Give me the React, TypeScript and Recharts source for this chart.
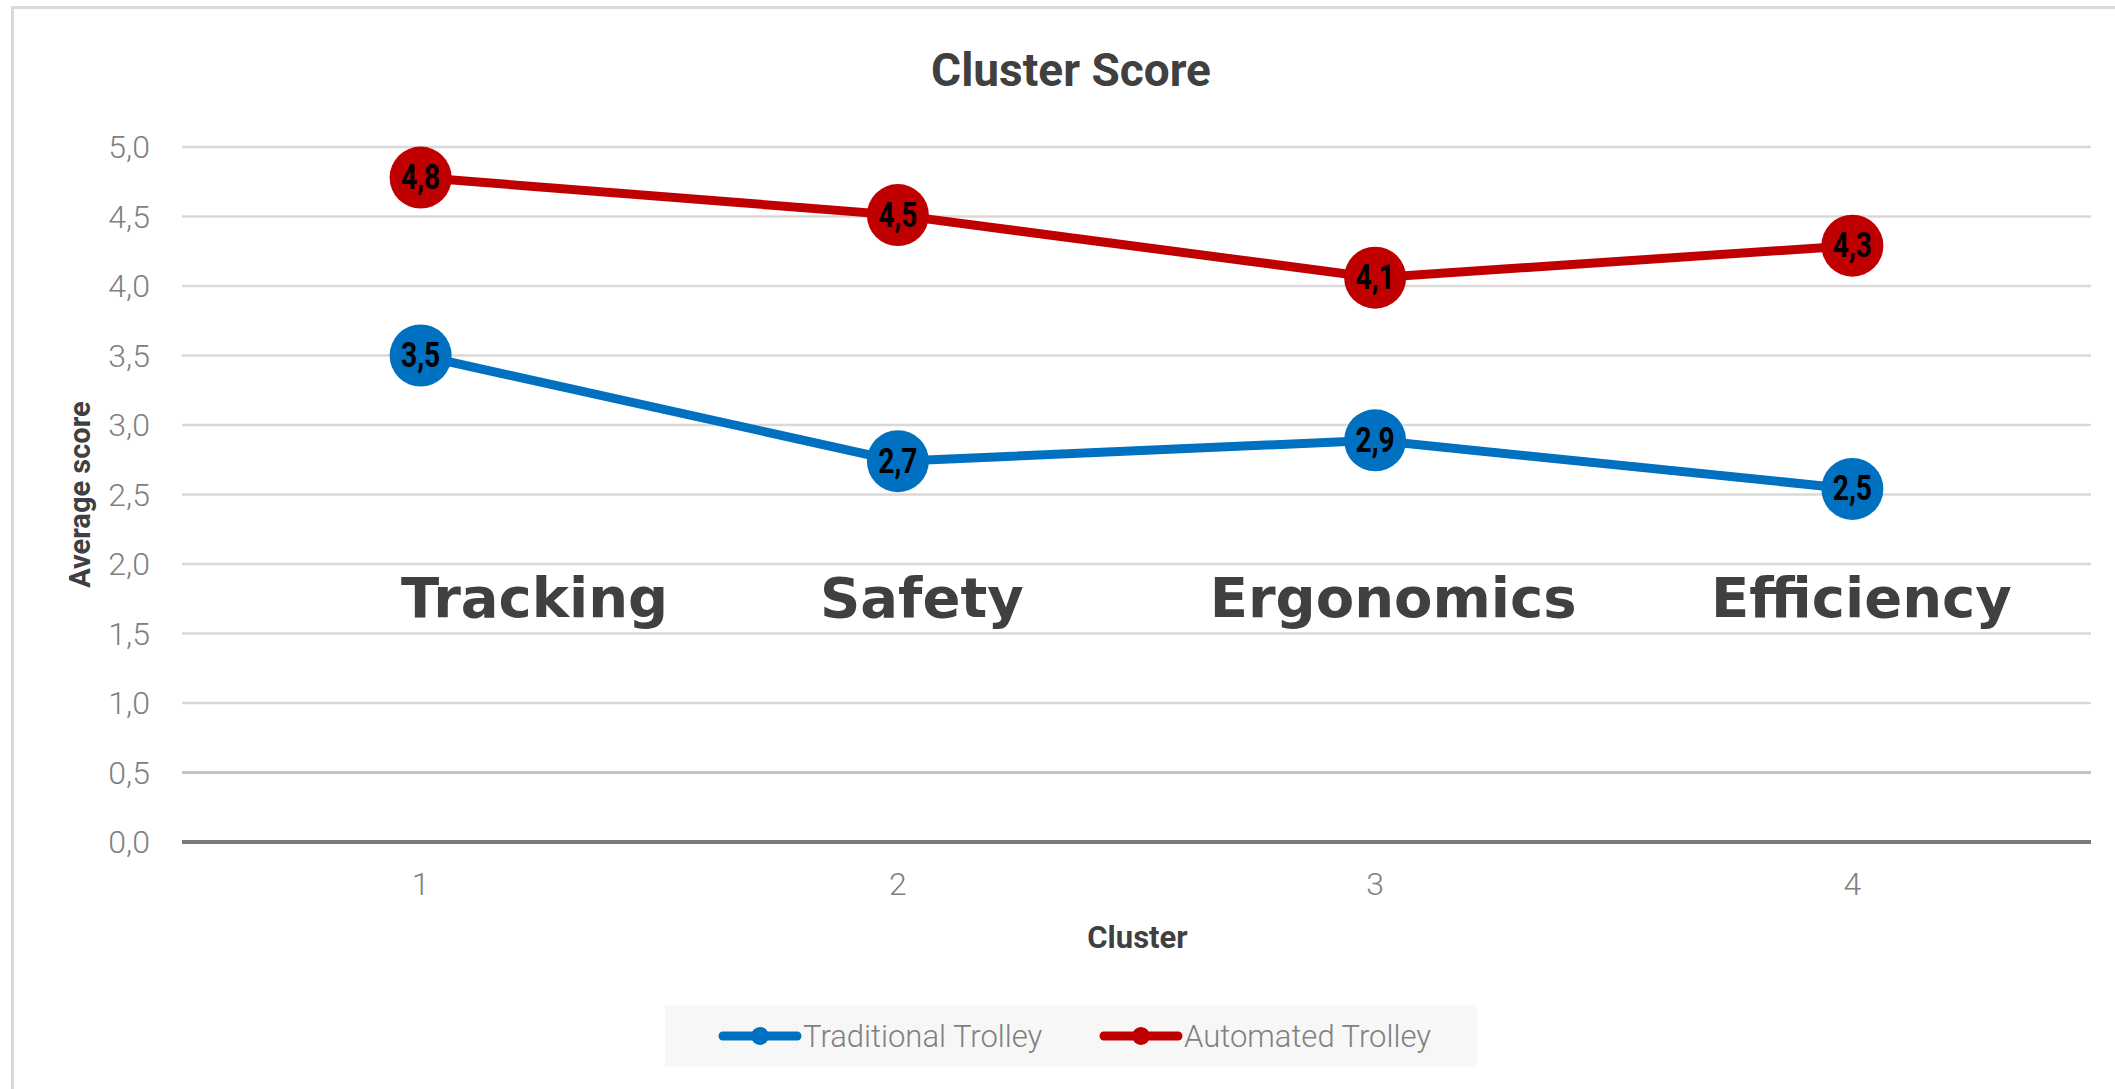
import React from 'react';
import {
  LineChart,
  Line,
  XAxis,
  YAxis,
  CartesianGrid,
  ReferenceDot,
  ReferenceLine,
  Legend,
  Customized,
} from 'recharts';

// ---------- data ----------
const clusters = [1, 2, 3, 4];
const clusterNames = ['Tracking', 'Safety', 'Ergonomics', 'Efficiency'];
const traditionalScores = [3.5, 2.74, 2.89, 2.54];
const automatedScores = [4.78, 4.51, 4.06, 4.29];
const yTicks = [0, 0.5, 1, 1.5, 2, 2.5, 3, 3.5, 4, 4.5, 5];
const seriesNames = ['Traditional Trolley', 'Automated Trolley'];
const chartTitle = 'Cluster Score';
const xAxisTitle = 'Cluster';
const yAxisTitle = 'Average score';

const data = clusters.map((c, i) => ({
  cluster: c,
  traditional: traditionalScores[i],
  automated: automatedScores[i],
}));

// ---------- styles ----------
const W = 2115;
const H = 1089;
const BLUE = '#0070C0';
const RED = '#C00000';
const GRID = '#d9d9d9';
const TICK_COLOR = '#808080';
const TEXT_DARK = '#404040';
const FONT = 'Roboto, "Noto Sans", sans-serif';
const nameDx = [114, 24, 18, 9];
const nameLevel = 1.62;

const fmt = (v: number) => v.toFixed(1).replace('.', ',');

const YTick = (props: any) => {
  const { x, y, payload } = props;
  return (
    <text x={x} y={y} textAnchor="end" dominantBaseline="central" fontFamily={FONT} fontSize={32} fontWeight={300} fill={TICK_COLOR}>
      {fmt(payload.value)}
    </text>
  );
};

const XTick = (props: any) => {
  const { x, y, payload } = props;
  return (
    <text x={x} y={y} textAnchor="middle" dominantBaseline="central" fontFamily={FONT} fontSize={32} fontWeight={300} fill={TICK_COLOR}>
      {String(payload.value)}
    </text>
  );
};

const makeDot = (color: string, key: string) => (props: any) => {
  const { cx, cy, payload, index } = props;
  if (cx == null || cy == null) return <g key={`d-${key}-${index}`} />;
  return (
    <g key={`d-${key}-${index}`}>
      <circle cx={cx} cy={cy} r={31} fill={color} stroke="none" />
      <text
        transform={`translate(${cx},${cy}) scale(0.88,1.08)`}
        textAnchor="middle"
        dominantBaseline="central"
        fontFamily={FONT}
        fontSize={32}
        fontWeight={700}
        fill="#000"
      >
        {fmt(payload[key])}
      </text>
    </g>
  );
};

const LegendContent = () => {
  const items = [
    { name: seriesNames[0], color: BLUE, x: 719 - 665 },
    { name: seriesNames[1], color: RED, x: 1100 - 665 },
  ];
  return (
    <svg width={812} height={62} style={{ display: 'block' }}>
      <rect x={0} y={0} width={812} height={62} fill="#f7f7f7" />
      {items.map((it) => (
        <g key={it.name}>
          <line x1={it.x + 4} y1={31} x2={it.x + 78} y2={31} stroke={it.color} strokeWidth={9} strokeLinecap="round" />
          <circle cx={it.x + 41} cy={31} r={9} fill={it.color} />
          <text x={it.x + 84} y={31} dominantBaseline="central" fontFamily={FONT} fontSize={31} fontWeight={300} fill={TICK_COLOR}>
            {it.name}
          </text>
        </g>
      ))}
    </svg>
  );
};

const Title = () => (
  <text x={1071} y={86} textAnchor="middle" fontFamily={FONT} fontSize={46} fontWeight={700} fill={TEXT_DARK}>
    {chartTitle}
  </text>
);

export default function App() {
  return (
    <div style={{ position: 'absolute', left: 0, top: 0, width: W, height: H, background: '#fff', overflow: 'hidden' }}>
      <div
        style={{
          position: 'absolute',
          left: 11,
          top: 6,
          width: 2300,
          height: 1300,
          border: `3px solid ${GRID}`,
          boxSizing: 'border-box',
        }}
      />
      <div style={{ position: 'absolute', left: 0, top: 0 }}>
        <LineChart
          width={W}
          height={H}
          data={data}
          margin={{ top: 147, right: 24, left: 82, bottom: 187 }}
        >
          <CartesianGrid horizontal vertical={false} stroke={GRID} strokeWidth={2.5} />
          <ReferenceLine y={0.5} stroke="#c4c4c4" strokeWidth={3} />
          <XAxis
            dataKey="cluster"
            type="number"
            domain={[0.5, 4.5]}
            ticks={clusters}
            height={60}
            tickSize={0}
            tickMargin={42}
            tickLine={false}
            axisLine={{ stroke: '#7a7a7a', strokeWidth: 4 }}
            tick={<XTick />}
            label={{
              content: (p: any) => {
                const vb = p.viewBox || { x: 182, y: 842, width: 1909 };
                return (
                  <text x={vb.x + vb.width / 2 + 1} y={vb.y + 106} textAnchor="middle" fontFamily={FONT} fontSize={31} fontWeight={700} fill={TEXT_DARK}>
                    {xAxisTitle}
                  </text>
                );
              },
            }}
          />
          <YAxis
            type="number"
            domain={[0, 5]}
            ticks={yTicks}
            width={100}
            tickSize={0}
            tickMargin={32}
            tickLine={false}
            axisLine={false}
            tick={<YTick />}
            label={{
              content: (p: any) => {
                const vb = p.viewBox || { x: 82, y: 147, height: 695 };
                const cy = vb.y + vb.height / 2;
                return (
                  <text transform={`translate(80,${cy}) rotate(-90)`} textAnchor="middle" dominantBaseline="central" fontFamily={FONT} fontSize={29} fontWeight={700} fill={TEXT_DARK}>
                    {yAxisTitle}
                  </text>
                );
              },
            }}
          />
          {clusters.map((c, i) => (
            <ReferenceDot
              key={`name-${c}`}
              x={c}
              y={nameLevel}
              r={0}
              fill="none"
              stroke="none"
              label={{
                content: (p: any) => {
                  const vb = p.viewBox || { x: 0, y: 0 };
                  return (
                    <text x={vb.x + nameDx[i]} y={vb.y} textAnchor="middle" fontFamily='"DejaVu Sans", Verdana, sans-serif' fontSize={56} fontWeight={700} fill={TEXT_DARK}>
                      {clusterNames[i]}
                    </text>
                  );
                },
              }}
            />
          ))}
          <Line
            type="linear"
            dataKey="traditional"
            name={seriesNames[0]}
            stroke={BLUE}
            strokeWidth={9}
            dot={makeDot(BLUE, 'traditional')}
            activeDot={false}
            isAnimationActive={false}
          />
          <Line
            type="linear"
            dataKey="automated"
            name={seriesNames[1]}
            stroke={RED}
            strokeWidth={9}
            dot={makeDot(RED, 'automated')}
            activeDot={false}
            isAnimationActive={false}
          />
          <Legend
            layout="horizontal"
            verticalAlign="middle"
            align="center"
            content={<LegendContent />}
            wrapperStyle={{ position: 'absolute', left: 665, top: 1005, width: 812, height: 62 }}
          />
          <Customized component={Title} />
        </LineChart>
      </div>
    </div>
  );
}
